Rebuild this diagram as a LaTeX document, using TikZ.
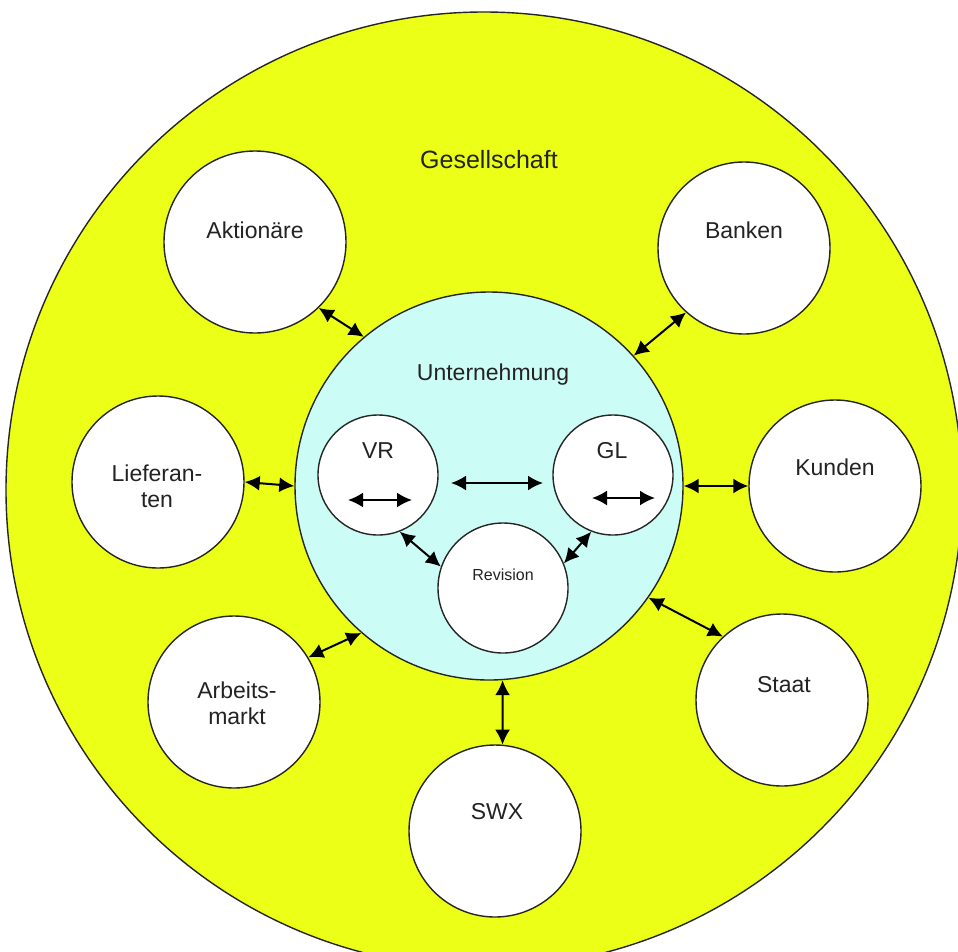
\documentclass[tikz,border=0pt]{standalone}
\usepackage{fontspec}
\setmainfont{Liberation Sans}
\usetikzlibrary{arrows.meta}
\definecolor{gelb}{RGB}{236,255,22}
\definecolor{hellcyan}{RGB}{204,252,246}
\definecolor{txt}{RGB}{35,35,35}
\tikzset{
  bubble/.style={circle, draw=black!85, line width=1.4pt, fill=white, inner sep=0pt, minimum size=#1},
  lbl/.style={inner sep=0pt, text=txt, font=\fontsize{23}{26}\selectfont, align=center, text height=0.72em, text depth=0pt},
  smalllbl/.style={inner sep=0pt, text=txt, font=\fontsize{16}{18}\selectfont, text height=0.72em, text depth=0pt},
  biarrow/.style={line width=2pt, {Latex[length=15pt,width=15pt]}-{Latex[length=15pt,width=15pt]}}
}
\begin{document}
\begin{tikzpicture}[x=1pt,y=-1pt]
\useasboundingbox (0,0) rectangle (958,951);
\clip (0,0) rectangle (958,951);
% big society circle
\node[bubble=956pt, fill=gelb] (ges) at (484,490) {};
\node[lbl, font=\fontsize{25}{28}\selectfont] (gestxt) at (489,165) {Gesellschaft};
% company circle
\node[bubble=388pt, fill=hellcyan] (unt) at (489,486) {};
\node[lbl] (unttxt) at (493,377) {Unternehmung};
% outer stakeholders
\node[bubble=182pt] (akt) at (255,242) {};
\node[lbl] (akttxt) at (255,235) {Aktionäre};
\node[bubble=172pt] (ban) at (744,248) {};
\node[lbl] (bantxt) at (744,235) {Banken};
\node[bubble=172pt] (lie) at (158,482) {};
\node[lbl, text height=2.05em] (lietxt) at (157,497) {Lieferan-\\ten};
\node[bubble=172pt] (kun) at (835,486) {};
\node[lbl] (kuntxt) at (835,472) {Kunden};
\node[bubble=172pt] (arb) at (234,702) {};
\node[lbl, text height=2.05em] (arbtxt) at (237,714) {Arbeits-\\markt};
\node[bubble=172pt] (sta) at (782,700) {};
\node[lbl] (statxt) at (784,689) {Staat};
\node[bubble=172pt] (swx) at (495,831) {};
\node[lbl] (swxtxt) at (497,816) {SWX};
% inner organs
\node[bubble=120pt] (vr) at (378,475) {};
\node[lbl] (vrtxt) at (378,455) {VR};
\node[bubble=120pt] (gl) at (613,475) {};
\node[lbl] (gltxt) at (612,455) {GL};
\node[bubble=130pt] (rev) at (503,588) {};
\node[smalllbl] (revtxt) at (503,577) {Revision};
% free-end coordinates for inner arrows
\coordinate (vrA) at (348,500);
\coordinate (vrB) at (412,500);
\coordinate (glA) at (592,498);
\coordinate (glB) at (655,498);
\coordinate (midA) at (451,483);
\coordinate (midB) at (543,483);
% connectors
\draw[biarrow] (akt.314) -- (unt.130);
\draw[biarrow] (ban.228) -- (unt.42);
\draw[biarrow] (lie.east) -- (unt.west);
\draw[biarrow] (unt.east) -- (kun.west);
\draw[biarrow] (unt.325) -- (sta.133);
\draw[biarrow] (arb.31) -- (unt.229);
\draw[biarrow] (unt.274) -- (swx.85);
\draw[biarrow] (vr.291) -- (rev.161);
\draw[biarrow] (gl.249) -- (rev.22);
\draw[biarrow] (vrA) -- (vrB);
\draw[biarrow] (glA) -- (glB);
\draw[biarrow] (midA) -- (midB);
\end{tikzpicture}
\end{document}
